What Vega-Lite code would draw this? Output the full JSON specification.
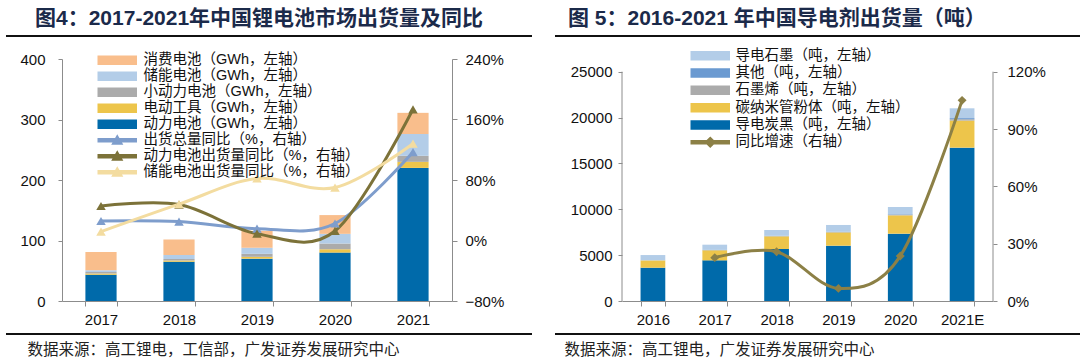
{
  "$schema": "https://vega.github.io/schema/vega-lite/v6.json",
  "padding": {"left": 4, "top": 8, "right": 0, "bottom": 0},
  "spacing": 20,
  "resolve": {"scale": {"color": "independent"}, "legend": {"color": "independent"}},
  "config": {
    "view": {"stroke": null},
    "font": "Liberation Sans, Noto Sans CJK SC",
    "axis": {"labelFont": "Liberation Sans, Noto Sans CJK SC", "labelFontSize": 15, "labelColor": "#111", "domainColor": "#8c8c8c", "tickColor": "#8c8c8c", "grid": false},
    "title": {"font": "Liberation Sans, Noto Sans CJK SC"}
  },
  "hconcat": [
    {
      "width": 390, "height": 242,
      "title": {"text": "图4：2017-2021年中国锂电池市场出货量及同比", "anchor": "start", "frame": "bounds", "dx": 30, "offset": 6, "fontSize": 21, "fontWeight": "bold", "color": "#1B2A4A"},
      "layer": [
        {
          "layer": [
            {
              "data": {"values": [
                {"year": "2017", "series": "动力电池（GWh，左轴）", "k": 1, "v": 43.5},
                {"year": "2017", "series": "电动工具（GWh，左轴）", "k": 2, "v": 2},
                {"year": "2017", "series": "小动力电池（GWh，左轴）", "k": 3, "v": 2.5},
                {"year": "2017", "series": "储能电池（GWh，左轴）", "k": 4, "v": 3},
                {"year": "2017", "series": "消费电池（GWh，左轴）", "k": 5, "v": 30},
                {"year": "2018", "series": "动力电池（GWh，左轴）", "k": 1, "v": 65},
                {"year": "2018", "series": "电动工具（GWh，左轴）", "k": 2, "v": 2},
                {"year": "2018", "series": "小动力电池（GWh，左轴）", "k": 3, "v": 2.5},
                {"year": "2018", "series": "储能电池（GWh，左轴）", "k": 4, "v": 6.5},
                {"year": "2018", "series": "消费电池（GWh，左轴）", "k": 5, "v": 25.5},
                {"year": "2019", "series": "动力电池（GWh，左轴）", "k": 1, "v": 70},
                {"year": "2019", "series": "电动工具（GWh，左轴）", "k": 2, "v": 3},
                {"year": "2019", "series": "小动力电池（GWh，左轴）", "k": 3, "v": 5},
                {"year": "2019", "series": "储能电池（GWh，左轴）", "k": 4, "v": 10},
                {"year": "2019", "series": "消费电池（GWh，左轴）", "k": 5, "v": 28},
                {"year": "2020", "series": "动力电池（GWh，左轴）", "k": 1, "v": 80},
                {"year": "2020", "series": "电动工具（GWh，左轴）", "k": 2, "v": 5.5},
                {"year": "2020", "series": "小动力电池（GWh，左轴）", "k": 3, "v": 9.5},
                {"year": "2020", "series": "储能电池（GWh，左轴）", "k": 4, "v": 16},
                {"year": "2020", "series": "消费电池（GWh，左轴）", "k": 5, "v": 31},
                {"year": "2021", "series": "动力电池（GWh，左轴）", "k": 1, "v": 220},
                {"year": "2021", "series": "电动工具（GWh，左轴）", "k": 2, "v": 10},
                {"year": "2021", "series": "小动力电池（GWh，左轴）", "k": 3, "v": 10},
                {"year": "2021", "series": "储能电池（GWh，左轴）", "k": 4, "v": 36},
                {"year": "2021", "series": "消费电池（GWh，左轴）", "k": 5, "v": 35}
              ]},
              "mark": {"type": "bar"},
              "encoding": {
                "x": {"field": "year", "type": "nominal", "scale": {"paddingInner": 0.6, "paddingOuter": 0.3},
                  "axis": {"labelAngle": 0, "tickSize": 5, "tickBand": "extent", "labelPadding": 6,
                    "title": "数据来源：高工锂电，工信部，广发证券发展研究中心", "titleX": -35, "titleY": 41, "titleAlign": "left", "titleBaseline": "top", "titleAngle": 0, "titleFontSize": 15.5, "titleFontWeight": "normal", "titleColor": "#222", "titleFont": "Liberation Sans, Noto Sans CJK SC"}},
                "y": {"field": "v", "type": "quantitative", "stack": "zero", "scale": {"domain": [0, 400], "nice": false},
                  "axis": {"title": null, "values": [0, 100, 200, 300, 400], "tickSize": 4, "labelPadding": 13}},
                "order": {"field": "k", "type": "quantitative"},
                "color": {"field": "series", "type": "nominal",
                  "scale": {"domain": ["消费电池（GWh，左轴）", "储能电池（GWh，左轴）", "小动力电池（GWh，左轴）", "电动工具（GWh，左轴）", "动力电池（GWh，左轴）", "出货总量同比（%，右轴）", "动力电池出货量同比（%，右轴）", "储能电池出货量同比（%，右轴）"],
                    "range": ["#F9BE8C", "#B3CDE8", "#ABABAB", "#EDC54B", "#006AAA", "#7E9DCC", "#7C7239", "#F3DCA0"]},
                  "legend": {"orient": "none", "legendX": 33, "legendY": -6, "title": null, "padding": 0, "symbolSize": 64, "symbolOffset": 15, "labelOffset": 19, "labelLimit": 400, "labelFontSize": 14.5, "labelColor": "#111", "rowPadding": 0,
                    "encode": {"symbols": {"update": {
                      "shape": {"signal": "indexof(datum.value, '同比') >= 0 ? 'M-4.75,-0.375H4.75V0.375H-4.75Z M-1.2,0.95L0,-1.15L1.2,0.95Z' : 'M-4.75,-1H4.75V1H-4.75Z'"},
                      "fill": {"signal": "['#F9BE8C','#B3CDE8','#ABABAB','#EDC54B','#006AAA','#7E9DCC','#7C7239','#F3DCA0'][indexof(['消费电池（GWh，左轴）','储能电池（GWh，左轴）','小动力电池（GWh，左轴）','电动工具（GWh，左轴）','动力电池（GWh，左轴）','出货总量同比（%，右轴）','动力电池出货量同比（%，右轴）','储能电池出货量同比（%，右轴）'], datum.value)]"},
                      "stroke": {"value": "transparent"},
                      "size": {"value": 64},
                      "opacity": {"value": 1}
                    }}}}
                }
              }
            },
            {
              "data": {"values": [
                {"year": "2017", "series": "出货总量同比（%，右轴）", "r": 0.258},
                {"year": "2018", "series": "出货总量同比（%，右轴）", "r": 0.25},
                {"year": "2019", "series": "出货总量同比（%，右轴）", "r": 0.156},
                {"year": "2020", "series": "出货总量同比（%，右轴）", "r": 0.225},
                {"year": "2021", "series": "出货总量同比（%，右轴）", "r": 1.17},
                {"year": "2017", "series": "动力电池出货量同比（%，右轴）", "r": 0.456},
                {"year": "2018", "series": "动力电池出货量同比（%，右轴）", "r": 0.475},
                {"year": "2019", "series": "动力电池出货量同比（%，右轴）", "r": 0.09},
                {"year": "2020", "series": "动力电池出货量同比（%，右轴）", "r": 0.126},
                {"year": "2021", "series": "动力电池出货量同比（%，右轴）", "r": 1.735},
                {"year": "2017", "series": "储能电池出货量同比（%，右轴）", "r": 0.117},
                {"year": "2018", "series": "储能电池出货量同比（%，右轴）", "r": 0.48},
                {"year": "2019", "series": "储能电池出货量同比（%，右轴）", "r": 0.82},
                {"year": "2020", "series": "储能电池出货量同比（%，右轴）", "r": 0.70},
                {"year": "2021", "series": "储能电池出货量同比（%，右轴）", "r": 1.28}
              ]},
              "mark": {"type": "line", "interpolate": "cardinal", "strokeWidth": 3, "point": {"shape": "triangle-up", "size": 90, "filled": true}},
              "encoding": {
                "x": {"field": "year", "type": "nominal"},
                "y": {"field": "r", "type": "quantitative", "scale": {"domain": [-0.8, 2.4], "nice": false},
                  "axis": {"orient": "right", "title": null, "values": [-0.8, 0, 0.8, 1.6, 2.4], "format": ".0%", "tickSize": 5, "labelPadding": 8}},
                "color": {"field": "series", "type": "nominal", "legend": null}
              }
            }
          ],
          "resolve": {"scale": {"y": "independent"}}
        },
        {
          "data": {"values": [{"line": "top"}]},
          "mark": {"type": "rule", "color": "#111", "strokeWidth": 2},
          "encoding": {
            "x": {"datum": -0.1436, "type": "quantitative", "scale": {"domain": [0, 1], "nice": false, "zero": false}, "axis": null},
            "x2": {"datum": 1.2051},
            "y": {"datum": 1.095, "type": "quantitative", "scale": {"domain": [0, 1], "nice": false, "zero": false}, "axis": null}
          }
        },
        {
          "data": {"values": [{"line": "bottom"}]},
          "mark": {"type": "rule", "color": "#111", "strokeWidth": 2},
          "encoding": {
            "x": {"datum": -0.1436, "type": "quantitative", "scale": {"domain": [0, 1], "nice": false, "zero": false}, "axis": null},
            "x2": {"datum": 1.2051},
            "y": {"datum": -0.1364, "type": "quantitative", "scale": {"domain": [0, 1], "nice": false, "zero": false}, "axis": null}
          }
        }
      ],
      "resolve": {"scale": {"x": "independent", "y": "independent"}}
    },
    {
      "width": 371, "height": 242,
      "title": {"text": "图 5：2016-2021 年中国导电剂出货量（吨）", "anchor": "start", "frame": "bounds", "dx": 14, "offset": 6, "fontSize": 21, "fontWeight": "bold", "color": "#1B2A4A"},
      "layer": [
        {
          "layer": [
            {
              "data": {"values": [
                {"year": "2016", "series": "导电炭黑（吨，左轴）", "k": 1, "v": 3630},
                {"year": "2016", "series": "碳纳米管粉体（吨，左轴）", "k": 2, "v": 800},
                {"year": "2016", "series": "石墨烯（吨，左轴）", "k": 3, "v": 0},
                {"year": "2016", "series": "其他（吨，左轴）", "k": 4, "v": 0},
                {"year": "2016", "series": "导电石墨（吨，左轴）", "k": 5, "v": 580},
                {"year": "2017", "series": "导电炭黑（吨，左轴）", "k": 1, "v": 4430},
                {"year": "2017", "series": "碳纳米管粉体（吨，左轴）", "k": 2, "v": 1100},
                {"year": "2017", "series": "石墨烯（吨，左轴）", "k": 3, "v": 20},
                {"year": "2017", "series": "其他（吨，左轴）", "k": 4, "v": 20},
                {"year": "2017", "series": "导电石墨（吨，左轴）", "k": 5, "v": 570},
                {"year": "2018", "series": "导电炭黑（吨，左轴）", "k": 1, "v": 5670},
                {"year": "2018", "series": "碳纳米管粉体（吨，左轴）", "k": 2, "v": 1380},
                {"year": "2018", "series": "石墨烯（吨，左轴）", "k": 3, "v": 30},
                {"year": "2018", "series": "其他（吨，左轴）", "k": 4, "v": 30},
                {"year": "2018", "series": "导电石墨（吨，左轴）", "k": 5, "v": 630},
                {"year": "2019", "series": "导电炭黑（吨，左轴）", "k": 1, "v": 6030},
                {"year": "2019", "series": "碳纳米管粉体（吨，左轴）", "k": 2, "v": 1450},
                {"year": "2019", "series": "石墨烯（吨，左轴）", "k": 3, "v": 30},
                {"year": "2019", "series": "其他（吨，左轴）", "k": 4, "v": 30},
                {"year": "2019", "series": "导电石墨（吨，左轴）", "k": 5, "v": 750},
                {"year": "2020", "series": "导电炭黑（吨，左轴）", "k": 1, "v": 7340},
                {"year": "2020", "series": "碳纳米管粉体（吨，左轴）", "k": 2, "v": 2000},
                {"year": "2020", "series": "石墨烯（吨，左轴）", "k": 3, "v": 80},
                {"year": "2020", "series": "其他（吨，左轴）", "k": 4, "v": 50},
                {"year": "2020", "series": "导电石墨（吨，左轴）", "k": 5, "v": 780},
                {"year": "2021E", "series": "导电炭黑（吨，左轴）", "k": 1, "v": 16720},
                {"year": "2021E", "series": "碳纳米管粉体（吨，左轴）", "k": 2, "v": 2950},
                {"year": "2021E", "series": "石墨烯（吨，左轴）", "k": 3, "v": 150},
                {"year": "2021E", "series": "其他（吨，左轴）", "k": 4, "v": 120},
                {"year": "2021E", "series": "导电石墨（吨，左轴）", "k": 5, "v": 1070}
              ]},
              "mark": {"type": "bar"},
              "encoding": {
                "x": {"field": "year", "type": "nominal", "scale": {"paddingInner": 0.6, "paddingOuter": 0.3},
                  "axis": {"labelAngle": 0, "tickSize": 5, "tickBand": "extent", "labelPadding": 6,
                    "title": "数据来源：高工锂电，广发证券发展研究中心", "titleX": -58, "titleY": 41, "titleAlign": "left", "titleBaseline": "top", "titleAngle": 0, "titleFontSize": 15.5, "titleFontWeight": "normal", "titleColor": "#222", "titleFont": "Liberation Sans, Noto Sans CJK SC"}},
                "y": {"field": "v", "type": "quantitative", "stack": "zero", "scale": {"domain": [0, 26385], "nice": false},
                  "axis": {"title": null, "domain": false, "values": [0, 5000, 10000, 15000, 20000, 25000], "format": "d", "tickSize": 4, "labelPadding": 6}},
                "order": {"field": "k", "type": "quantitative"},
                "color": {"field": "series", "type": "nominal",
                  "scale": {"domain": ["导电石墨（吨，左轴）", "其他（吨，左轴）", "石墨烯（吨，左轴）", "碳纳米管粉体（吨，左轴）", "导电炭黑（吨，左轴）", "同比增速（右轴）"],
                    "range": ["#B3CDE8", "#6B9AD1", "#ABABAB", "#EDC54B", "#006AAA", "#8C8046"]},
                  "legend": {"orient": "none", "legendX": 66, "legendY": -10.5, "title": null, "padding": 0, "symbolSize": 64, "symbolOffset": 15, "labelOffset": 18, "labelLimit": 400, "labelFontSize": 14.5, "labelColor": "#111", "rowPadding": 1.3,
                    "encode": {"symbols": {"update": {
                      "shape": {"signal": "indexof(datum.value, '同比') >= 0 ? 'M-4.75,-0.375H4.75V0.375H-4.75Z M0,-1.2L1.2,0L0,1.2L-1.2,0Z' : 'M-4.75,-1H4.75V1H-4.75Z'"},
                      "fill": {"signal": "['#B3CDE8','#6B9AD1','#ABABAB','#EDC54B','#006AAA','#8C8046'][indexof(['导电石墨（吨，左轴）','其他（吨，左轴）','石墨烯（吨，左轴）','碳纳米管粉体（吨，左轴）','导电炭黑（吨，左轴）','同比增速（右轴）'], datum.value)]"},
                      "stroke": {"value": "transparent"},
                      "size": {"value": 64},
                      "opacity": {"value": 1}
                    }}}}
                }
              }
            },
            {
              "data": {"values": [
                {"year": "2017", "series": "同比增速（右轴）", "r": 0.227},
                {"year": "2018", "series": "同比增速（右轴）", "r": 0.258},
                {"year": "2019", "series": "同比增速（右轴）", "r": 0.066},
                {"year": "2020", "series": "同比增速（右轴）", "r": 0.235},
                {"year": "2021E", "series": "同比增速（右轴）", "r": 1.05}
              ]},
              "mark": {"type": "line", "interpolate": "cardinal", "strokeWidth": 3, "point": {"shape": "diamond", "size": 80, "filled": true}},
              "encoding": {
                "x": {"field": "year", "type": "nominal"},
                "y": {"field": "r", "type": "quantitative", "scale": {"domain": [0, 1.2665], "nice": false},
                  "axis": {"orient": "right", "title": null, "domain": false, "values": [0, 0.3, 0.6, 0.9, 1.2], "format": ".0%", "tickSize": 4, "labelPadding": 10}},
                "color": {"field": "series", "type": "nominal", "legend": null}
              }
            },
            {
              "data": {"values": [{"axisline": "left"}]},
              "mark": {"type": "rule", "color": "#8c8c8c", "strokeWidth": 1},
              "encoding": {
                "x": {"datum": "2016", "type": "nominal", "bandPosition": -0.75},
                "y": {"datum": 0, "type": "quantitative", "scale": {"domain": [0, 26385], "nice": false}, "axis": null},
                "y2": {"datum": 25000}
              }
            },
            {
              "data": {"values": [{"axisline": "right"}]},
              "mark": {"type": "rule", "color": "#8c8c8c", "strokeWidth": 1},
              "encoding": {
                "x": {"datum": "2021E", "type": "nominal", "bandPosition": 1.75},
                "y": {"datum": 0, "type": "quantitative", "scale": {"domain": [0, 26385], "nice": false}, "axis": null},
                "y2": {"datum": 25000}
              }
            }
          ],
          "resolve": {"scale": {"y": "independent"}}
        },
        {
          "data": {"values": [{"line": "top"}]},
          "mark": {"type": "rule", "color": "#111", "strokeWidth": 2},
          "encoding": {
            "x": {"datum": -0.1806, "type": "quantitative", "scale": {"domain": [0, 1], "nice": false, "zero": false}, "axis": null},
            "x2": {"datum": 1.2345},
            "y": {"datum": 1.095, "type": "quantitative", "scale": {"domain": [0, 1], "nice": false, "zero": false}, "axis": null}
          }
        },
        {
          "data": {"values": [{"line": "bottom"}]},
          "mark": {"type": "rule", "color": "#111", "strokeWidth": 2},
          "encoding": {
            "x": {"datum": -0.1806, "type": "quantitative", "scale": {"domain": [0, 1], "nice": false, "zero": false}, "axis": null},
            "x2": {"datum": 1.2345},
            "y": {"datum": -0.1364, "type": "quantitative", "scale": {"domain": [0, 1], "nice": false, "zero": false}, "axis": null}
          }
        }
      ],
      "resolve": {"scale": {"x": "independent", "y": "independent"}}
    }
  ]
}
